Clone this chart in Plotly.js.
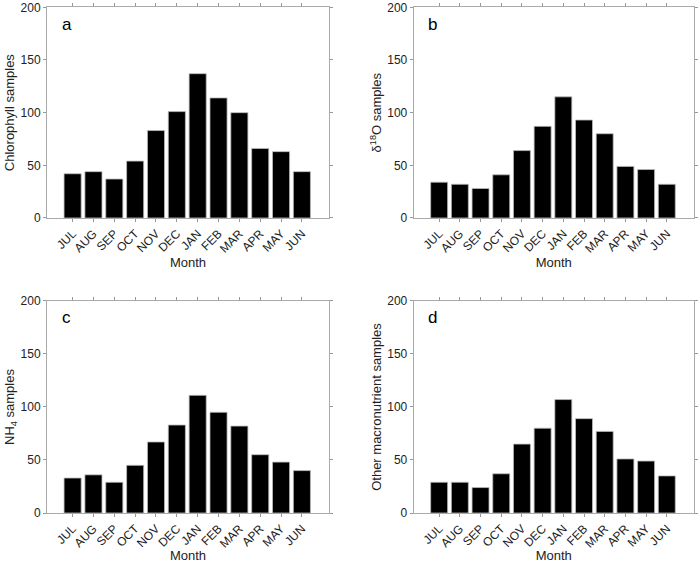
<!DOCTYPE html>
<html>
<head>
<meta charset="utf-8">
<script src="https://cdn.plot.ly/plotly-3.0.1.min.js"></script>
<style>html,body{margin:0;padding:0;background:#fff;}#chart{width:700px;height:563px;}</style>
</head>
<body>
<div id="chart"></div>
<script>
const months = ["JUL","AUG","SEP","OCT","NOV","DEC","JAN","FEB","MAR","APR","MAY","JUN"];
const chlorophyll = [42, 44, 37, 54, 83, 101, 137, 114, 100, 66, 63, 44];
const d18O = [34, 32, 28, 41, 64, 87, 115, 93, 80, 49, 46, 32];
const nh4 = [33, 36, 29, 45, 67, 83, 111, 95, 82, 55, 48, 40];
const otherNutrients = [29, 29, 24, 37, 65, 80, 107, 89, 77, 51, 49, 35];
const yTicks = [0, 50, 100, 150, 200];
const panelLabels = ["a", "b", "c", "d"];
const yTitles = ["Chlorophyll samples", "δ<sup>18</sup>O samples", "NH<sub>4</sub> samples", "Other macronutrient samples"];
const series = [chlorophyll, d18O, nh4, otherNutrients];

const font = {family: "Liberation Sans, Arial, Helvetica, sans-serif", size: 12, color: "#222"};
const traces = series.map((vals, i) => ({
  type: "bar",
  x: months,
  y: vals,
  xaxis: i === 0 ? "x" : "x" + (i + 1),
  yaxis: i === 0 ? "y" : "y" + (i + 1),
  marker: {color: "#000", line: {color: "#bbb", width: 0.8}},
  width: 0.82,
  hoverinfo: "x+y"
}));

const xDomains = [[0.0671, 0.470], [0.591, 0.991], [0.0671, 0.470], [0.591, 0.991]];
const yDomains = [[0.6128, 0.987], [0.6128, 0.987], [0.0888, 0.4654], [0.0888, 0.4654]];

const layout = {
  width: 700, height: 563,
  margin: {l: 0, r: 0, t: 0, b: 0},
  paper_bgcolor: "#fff", plot_bgcolor: "#fff",
  showlegend: false,
  font: font,
  annotations: []
};

for (let i = 0; i < 4; i++) {
  const xs = i === 0 ? "" : String(i + 1);
  layout["xaxis" + xs] = {
    domain: xDomains[i],
    anchor: "y" + xs,
    type: "category",
    range: [-1.23, 12.3],
    tickangle: -45,
    ticks: "outside", ticklen: 3, tickcolor: "#999",
    showline: true, linecolor: "#aaa", linewidth: 1, mirror: "ticks",
    showgrid: false, zeroline: false,
    ticklabeloverflow: "allow",
    tickfont: {family: font.family, size: 12, color: "#222"},
    title: {text: "Month", font: {family: font.family, size: 13, color: "#222"}, standoff: 0},
    fixedrange: true
  };
  layout["yaxis" + xs] = {
    domain: yDomains[i],
    anchor: "x" + xs,
    range: [0, 200],
    tickvals: yTicks,
    ticks: "outside", ticklen: 3, tickcolor: "#999",
    showline: true, linecolor: "#aaa", linewidth: 1, mirror: "ticks",
    showgrid: false, zeroline: false,
    ticklabeloverflow: "allow",
    tickfont: {family: font.family, size: 12, color: "#222"},
    title: {text: yTitles[i], font: {family: font.family, size: 13, color: "#222"}, standoff: 2},
    fixedrange: true
  };
  layout.annotations.push({
    text: panelLabels[i],
    xref: "x" + xs + " domain", yref: "y" + xs + " domain",
    x: 0.045, y: 0.975, xanchor: "left", yanchor: "top",
    showarrow: false,
    font: {family: font.family, size: 17, color: "#000"}
  });
}

Plotly.newPlot("chart", traces, layout, {displayModeBar: false, staticPlot: true});
</script>
</body>
</html>
